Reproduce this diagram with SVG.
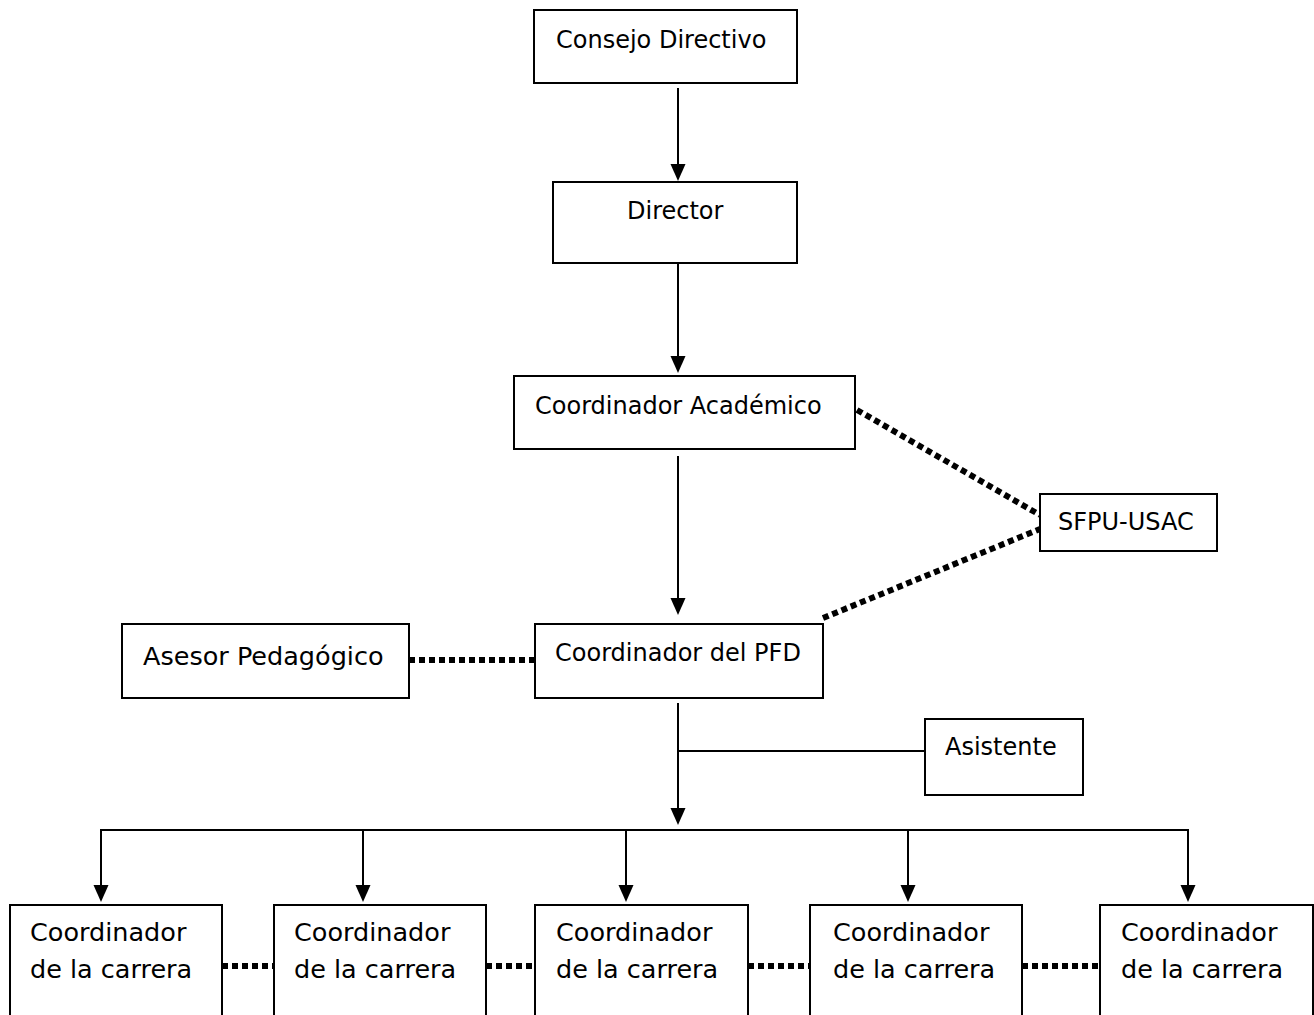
<svg xmlns="http://www.w3.org/2000/svg" width="1314" height="1015" viewBox="0 0 1314 1015">
<style>
.box{fill:#fff;stroke:#000;stroke-width:2}
.t{font-family:"DejaVu Sans",sans-serif;font-size:24px;fill:#000}
.tb{font-family:"DejaVu Sans",sans-serif;font-size:25.5px;fill:#000}
.ln{stroke:#000;stroke-width:2;fill:none}
.dot{stroke:#000;stroke-width:6;fill:none;stroke-dasharray:6 4}
</style>
<g id="connectors">
<line class="ln" x1="678" y1="88" x2="678" y2="166"/>
<polygon points="670.500,164 685.500,164 678,181"/>
<line class="ln" x1="678" y1="263" x2="678" y2="358"/>
<polygon points="670.500,356 685.500,356 678,373"/>
<line class="ln" x1="678" y1="456" x2="678" y2="600"/>
<polygon points="670.500,598 685.500,598 678,615"/>
<line class="ln" x1="678" y1="703" x2="678" y2="810"/>
<polygon points="670.500,808 685.500,808 678,825"/>
<line class="ln" x1="678" y1="751" x2="925" y2="751"/>
<polyline class="ln" points="101,887 101,830 1188,830 1188,887"/>
<line class="ln" x1="363" y1="830" x2="363" y2="887"/>
<line class="ln" x1="626" y1="830" x2="626" y2="887"/>
<line class="ln" x1="908" y1="830" x2="908" y2="887"/>
<polygon points="93.500,885 108.500,885 101,902"/>
<polygon points="355.500,885 370.500,885 363,902"/>
<polygon points="618.500,885 633.500,885 626,902"/>
<polygon points="900.500,885 915.500,885 908,902"/>
<polygon points="1180.500,885 1195.500,885 1188,902"/>
<line class="dot" x1="409" y1="660" x2="535" y2="660"/>
<line class="dot" x1="857" y1="410" x2="1040" y2="515"/>
<line class="dot" x1="823" y1="618" x2="1040" y2="529"/>
<line class="dot" x1="222" y1="966" x2="274" y2="966"/>
<line class="dot" x1="486" y1="966" x2="535" y2="966"/>
<line class="dot" x1="748" y1="966" x2="810" y2="966"/>
<line class="dot" x1="1022" y1="966" x2="1100" y2="966"/>
</g>
<g id="consejo"><rect class="box" x="534" y="10" width="263" height="73"/><text class="t" x="556" y="48">Consejo Directivo</text></g>
<g id="director"><rect class="box" x="553" y="182" width="244" height="81"/><text class="t" x="627" y="219">Director</text></g>
<g id="academico"><rect class="box" x="514" y="376" width="341" height="73"/><text class="t" x="535" y="414">Coordinador Académico</text></g>
<g id="sfpu"><rect class="box" x="1040" y="494" width="177" height="57"/><text class="t" x="1058" y="530">SFPU-USAC</text></g>
<g id="asesor"><rect class="box" x="122" y="624" width="287" height="74"/><text class="tb" x="143" y="665">Asesor Pedagógico</text></g>
<g id="pfd"><rect class="box" x="535" y="624" width="288" height="74"/><text class="t" x="555" y="661">Coordinador del PFD</text></g>
<g id="asistente"><rect class="box" x="925" y="719" width="158" height="76"/><text class="t" x="945" y="755">Asistente</text></g>
<g id="carrera1"><rect class="box" x="10" y="905" width="212" height="120"/><text class="tb" x="30" y="941">Coordinador</text><text class="tb" x="30" y="978">de la carrera</text></g>
<g id="carrera2"><rect class="box" x="274" y="905" width="212" height="120"/><text class="tb" x="294" y="941">Coordinador</text><text class="tb" x="294" y="978">de la carrera</text></g>
<g id="carrera3"><rect class="box" x="535" y="905" width="213" height="120"/><text class="tb" x="556" y="941">Coordinador</text><text class="tb" x="556" y="978">de la carrera</text></g>
<g id="carrera4"><rect class="box" x="810" y="905" width="212" height="120"/><text class="tb" x="833" y="941">Coordinador</text><text class="tb" x="833" y="978">de la carrera</text></g>
<g id="carrera5"><rect class="box" x="1100" y="905" width="213" height="120"/><text class="tb" x="1121" y="941">Coordinador</text><text class="tb" x="1121" y="978">de la carrera</text></g>
</svg>
